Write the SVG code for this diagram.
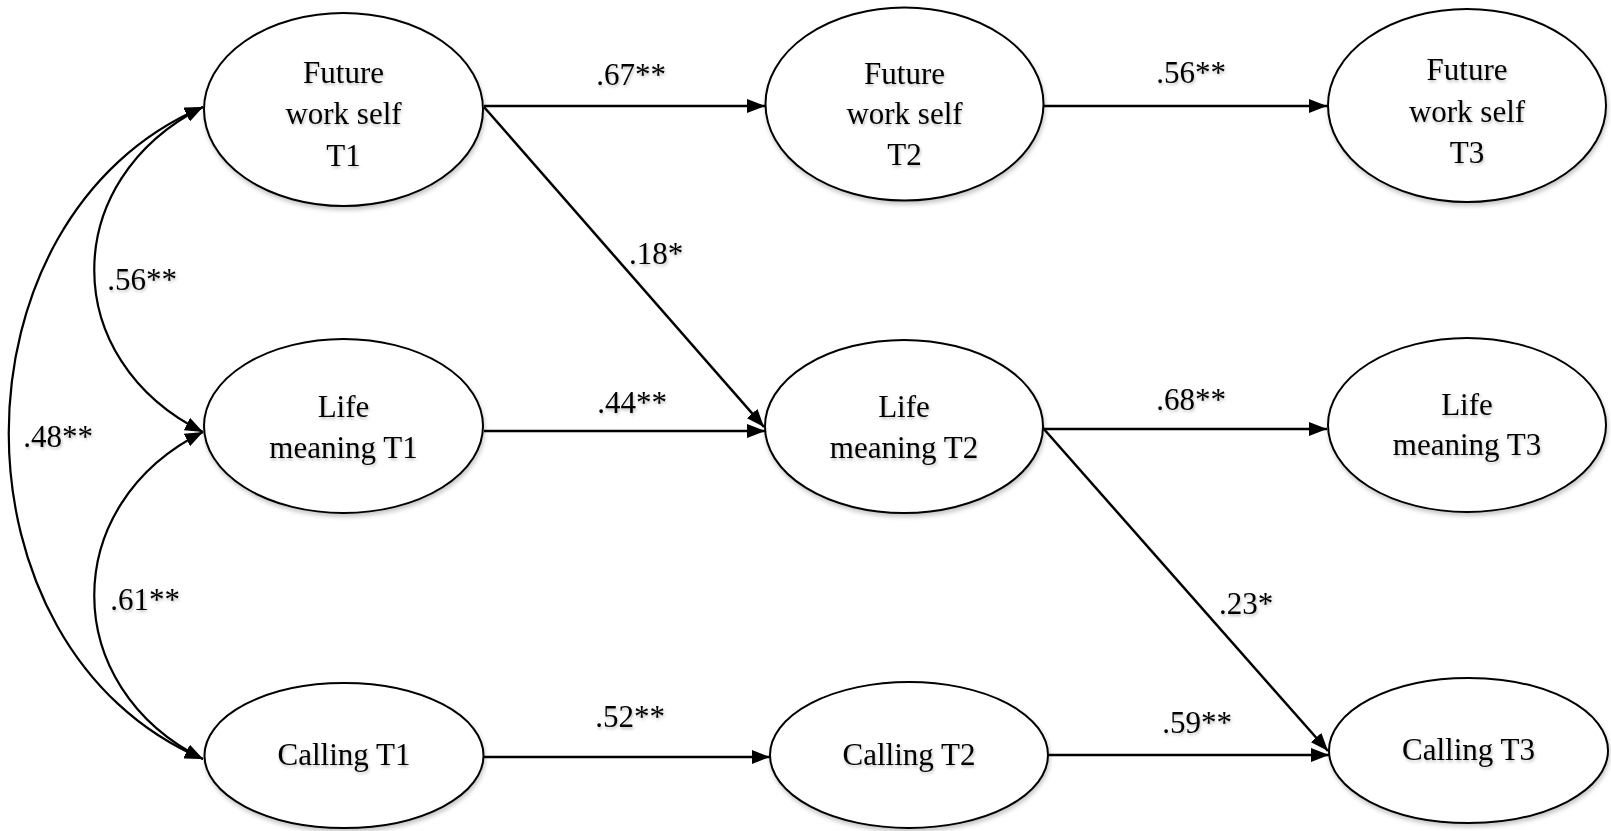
<svg xmlns="http://www.w3.org/2000/svg" width="1611" height="831" viewBox="0 0 1611 831">
<style>
.node ellipse{fill:#fff;stroke:#000;stroke-width:2;filter:url(#sh)}
.node text,.lbl{font-family:"Liberation Serif","Times New Roman",serif;font-size:31px;fill:#000;text-anchor:middle;filter:url(#tsh)}
.edge{fill:none;stroke:#000;stroke-width:2.5;marker-end:url(#ah)}
.cov{fill:none;stroke:#000;stroke-width:2.2;marker-end:url(#ah);marker-start:url(#ahs)}
</style>
<defs>
<filter id="sh" x="-10%" y="-10%" width="125%" height="130%"><feDropShadow dx="1" dy="3" stdDeviation="2" flood-color="#000" flood-opacity="0.22"/></filter>
<filter id="tsh" x="-10%" y="-20%" width="125%" height="150%"><feDropShadow dx="1" dy="2" stdDeviation="1.5" flood-color="#000" flood-opacity="0.25"/></filter>
<marker id="ah" viewBox="0 0 18 14" refX="18" refY="7" markerWidth="18" markerHeight="14" markerUnits="userSpaceOnUse" orient="auto"><path d="M0,0 L18,7 L0,14 z" fill="#000"/></marker>
<marker id="ahs" viewBox="0 0 18 14" refX="18" refY="7" markerWidth="18" markerHeight="14" markerUnits="userSpaceOnUse" orient="auto-start-reverse"><path d="M0,0 L18,7 L0,14 z" fill="#000"/></marker>
</defs>
<rect width="1611" height="831" fill="#fff"/>
<g id="connectors">
<line class="edge" x1="484" y1="106" x2="765" y2="106"/>
<line class="edge" x1="1044" y1="106" x2="1327" y2="106"/>
<line class="edge" x1="484" y1="107" x2="764" y2="427"/>
<line class="edge" x1="484" y1="431" x2="765" y2="431"/>
<line class="edge" x1="1043" y1="429" x2="1327" y2="429"/>
<line class="edge" x1="1043" y1="428" x2="1328" y2="751"/>
<line class="edge" x1="484" y1="757" x2="770" y2="757"/>
<line class="edge" x1="1049" y1="755" x2="1329" y2="755"/>
<path class="cov" d="M203,107 C58,180 58,360 203,432"/>
<path class="cov" d="M203,432 C58,504 58,687 203,759"/>
<path class="cov" d="M203,107 C-56,217 -56,649 203,759"/>
</g>
<g id="labels">
<text class="lbl" x="631" y="85">.67**</text>
<text class="lbl" x="1191" y="83">.56**</text>
<text class="lbl" x="656" y="264">.18*</text>
<text class="lbl" x="142" y="290">.56**</text>
<text class="lbl" x="58" y="447">.48**</text>
<text class="lbl" x="632" y="413">.44**</text>
<text class="lbl" x="1191" y="410">.68**</text>
<text class="lbl" x="145" y="610">.61**</text>
<text class="lbl" x="1246" y="614">.23*</text>
<text class="lbl" x="630" y="727">.52**</text>
<text class="lbl" x="1197" y="733">.59**</text>
</g>
<g id="fws1" class="node"><ellipse cx="343.5" cy="109.5" rx="139.5" ry="96.5"/><text x="343.5" y="83">Future</text><text x="343.5" y="124">work self</text><text x="343.5" y="166">T1</text></g>
<g id="fws2" class="node"><ellipse cx="904.5" cy="104" rx="139" ry="96.5"/><text x="904.5" y="84">Future</text><text x="904.5" y="124">work self</text><text x="904.5" y="165">T2</text></g>
<g id="fws3" class="node"><ellipse cx="1467" cy="105.5" rx="139" ry="96.5"/><text x="1467" y="80">Future</text><text x="1467" y="122">work self</text><text x="1467" y="163">T3</text></g>
<g id="lm1" class="node"><ellipse cx="343.5" cy="426" rx="139.5" ry="87"/><text x="343.5" y="417">Life</text><text x="343.5" y="458">meaning T1</text></g>
<g id="lm2" class="node"><ellipse cx="904" cy="426.5" rx="139" ry="86.5"/><text x="904" y="417">Life</text><text x="904" y="458">meaning T2</text></g>
<g id="lm3" class="node"><ellipse cx="1467" cy="425" rx="139" ry="87"/><text x="1467" y="415">Life</text><text x="1467" y="455">meaning T3</text></g>
<g id="c1" class="node"><ellipse cx="344" cy="755.5" rx="139.5" ry="72.5"/><text x="344" y="765">Calling T1</text></g>
<g id="c2" class="node"><ellipse cx="909" cy="755" rx="139" ry="73"/><text x="909" y="765">Calling T2</text></g>
<g id="c3" class="node"><ellipse cx="1468.5" cy="750.5" rx="139.5" ry="72.5"/><text x="1468.5" y="760">Calling T3</text></g>
</svg>
